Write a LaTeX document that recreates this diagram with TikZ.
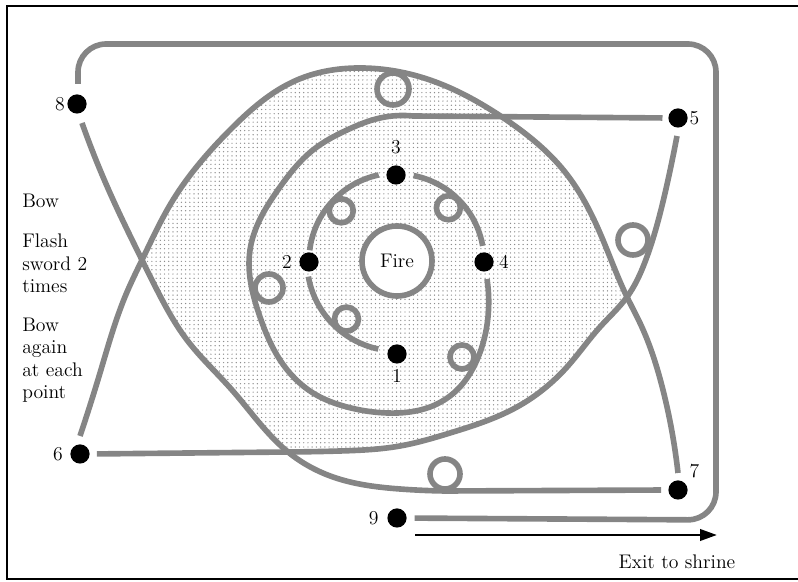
\documentclass[tikz,border=0pt]{standalone}
\usepackage{fontspec}
\usetikzlibrary{arrows.meta,positioning,patterns,hobby}
\definecolor{pathgray}{gray}{0.52}
\tikzset{
  walk/.style={draw=pathgray, line width=4pt},
  dot/.style={circle, fill=black, inner sep=0pt, minimum size=4.8mm},
  num/.style={inner sep=1pt},
  note/.style={anchor=base west, inner sep=0pt, align=left},
  exitarr/.style={-{Triangle[length=4.2mm, width=2.8mm]}, line width=2pt},
}
\begin{document}
\begin{tikzpicture}[x=0.025cm, y=0.025cm, font=\fontsize{14}{16}\selectfont]
  \useasboundingbox (0,0) rectangle (798,-582);
  \draw[line width=1.4pt] (800,-6) -- (7,-6) -- (7,-579) -- (800,-579);

  % where the two big arcs cross
  \coordinate (xl) at (142,-260);
  \coordinate (xr) at (627,-297);
  \coordinate (dip) at (288,-452);

  % stippled ground between the arcs
  \fill[pattern=dots, pattern color=black!45]
    (xl) to[curve through={(173,-200) .. (230,-130) .. (297,-80) .. (363,-68) .. (430,-80) .. (502,-117) .. (565,-172) .. (600,-233)}] (xr) -- (xr)
    to[curve through={(600,-327) .. (567,-367) .. (517,-407) .. (450,-433) .. (400,-446) .. (340,-451)}] (dip) -- (dip)
    to[curve through={(232,-390) .. (187,-340) .. (157,-290)}] (xl) -- cycle;

  \node[circle, walk, fill=white, minimum size=1.75cm] (fire) at (397,-261) {Fire};
  \foreach \n/\x/\y/\side/\d in {1/397/354/below/3pt, 2/309/262/left/4pt, 3/396/175/above/7pt,
      4/484/262/right/2.5pt, 5/678/118/right/0pt, 6/80/454/left/4pt, 7/678/490/above right/3pt,
      8/77/104/left/0.5pt, 9/397/518/left/5pt}
    \node[dot, label={[num, label distance=\d]\side:\n}] (p\n) at (\x,-\y) {};

  % inner round 1-2-3-4
  \begin{scope}[shift={(fire.center)}]
    \draw[walk] (-102:90) arc[start angle=-102, end angle=-170, radius=90];
    \draw[walk] (-187:88) arc[start angle=-187, end angle=-258, radius=88];
    \draw[walk] (-281:87) arc[start angle=-281, end angle=-350, radius=87];
    \foreach \a/\r in {131/77, 222/75, 314/74}
      \draw[walk] (-\a:\r) circle[radius=12];
  \end{scope}

  % second round, out to 5
  \draw[walk, shorten >=4pt] (487,-279) to[curve through={(488,-317) .. (477,-360) .. (457,-390) .. (430,-407) .. (387,-413) .. (347,-407) .. (313,-393) .. (280,-360) .. (260,-317) .. (250,-250) .. (280,-187) .. (313,-150) .. (347,-130) .. (380,-118)}] (413,-116) -- (p5.west);
  \draw[walk] (462,-357) circle[radius=12];
  \draw[walk] (269,-288) circle[radius=14];

  % the two big crossing arcs
  \draw[walk] (80,-436) to[curve through={(100,-373) .. (127,-292) .. (xl) .. (173,-200) .. (230,-130) .. (297,-80) .. (363,-68) .. (430,-80) .. (502,-117) .. (565,-172) .. (600,-233) .. (xr) .. (640,-323) .. (663,-390)}] (678,-473);
  \draw[walk, shorten >=5pt] (82,-123) to[curve through={(110,-193) .. (xl) .. (157,-290) .. (187,-340) .. (232,-390) .. (dip) .. (333,-477) .. (400,-489)}] (445,-491) -- (p7.west);
  \draw[walk, shorten >=5pt] (677,-136) to[curve through={(668,-180) .. (657,-225) .. (645,-262) .. (xr) .. (600,-327) .. (567,-367) .. (517,-407) .. (450,-433) .. (400,-446) .. (340,-451)}] (dip) -- (p6.east);
  \draw[walk] (393,-89) circle[radius=16];
  \draw[walk] (633,-240) circle[radius=15];
  \draw[walk] (445,-474) circle[radius=15];

  % way out: 8 round the outside to 9
  \draw[walk, rounded corners=20pt, shorten >=5.5pt] (78,-84) -- (78,-44) -- (716,-44) -- (716,-520) -- (p9);
  \coordinate (exitend) at (717,-535);
  \draw[exitarr, shorten <=6pt] (p9.east |- exitend) -- (exitend);
  \node (exit) at (677,-562) {Exit to shrine};

  \node[note] (bow) at (22,-208) {Bow};
  \node[note] (flash) at (22,-293) {Flash\\sword 2\\times};
  \node[note] (again) at (22,-399) {Bow\\again\\at each\\point};
\end{tikzpicture}
\end{document}
